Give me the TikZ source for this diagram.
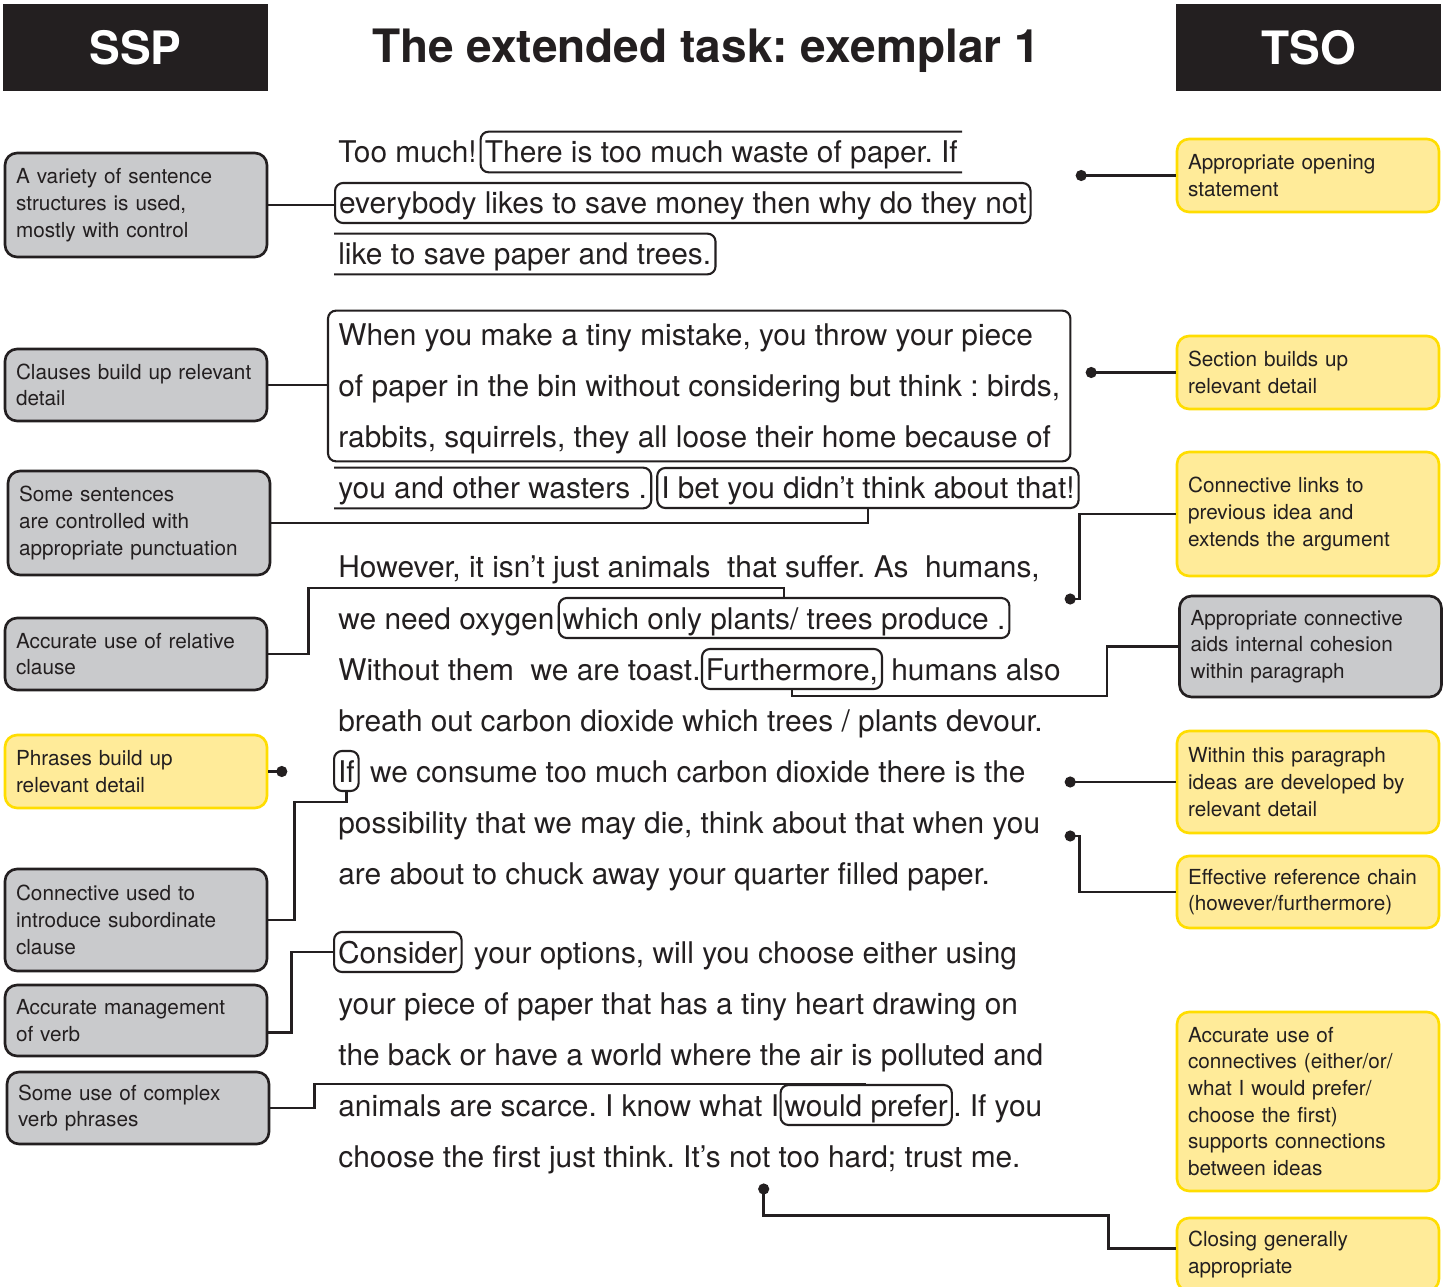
\documentclass[tikz,border=0pt]{standalone}
\usepackage{fontspec}
\setmainfont{TeX Gyre Heros}
\usetikzlibrary{arrows.meta, fit, positioning}
\definecolor{ink}{HTML}{231F20}
\definecolor{greybox}{HTML}{C9CACC}
\definecolor{yellowfill}{HTML}{FFEB99}
\definecolor{yellowedge}{HTML}{FFDD00}
\newcommand{\bodyfont}{\fontsize{17}{20}\selectfont}
\newcommand{\notefont}{\fontsize{11.8}{15.2}\selectfont}
\newcommand{\headfont}{\fontsize{26.2}{30}\selectfont\bfseries}
\frenchspacing
\tikzset{
	txt/.style={font=\bodyfont, text=ink, inner sep=0pt, anchor=base west, text height=0.56cm, text depth=0.12cm},
	hl/.style={txt, inner xsep=0.08cm, inner ysep=0.06cm},
	hlbox/.style={hl, draw=ink, line width=1.2pt, rounded corners=0.16cm},
	frame/.style={draw=ink, line width=1.2pt, rounded corners=0.16cm},
	note/.style={font=\notefont, text=ink, align=left, text width=4.8cm, inner xsep=0.22cm, rounded corners=0.24cm, line width=1.5pt},
	sspnote/.style={note, fill=greybox, draw=ink},
	tsonote/.style={note, fill=yellowfill, draw=yellowedge},
	head/.style={fill=ink, text=white, font=\headfont, minimum width=5.3cm, minimum height=1.74cm},
	conn/.style={draw=ink, line width=1.4pt},
	dot/.style={conn, -{Circle[length=0.22cm]}}
}

\begin{document}
\begin{tikzpicture}[x=0.02cm, y=-0.02cm]
\useasboundingbox (0,0) rectangle (1451,1287);
% headings
\node (ssp) [head] at (135.5,47.5) {SSP};
\node (tso) [head] at (1308.5,47.5) {TSO};
\node (title) [font=\headfont, text=ink, anchor=base] at (706,63) {The extended task: exemplar 1};

% the pupil's text
\node (t1a) [txt] at (338,163) {Too much!};
\node (t1b) [hl] at ([xshift=0.07cm]t1a.base east) {There is too much waste of paper. If};
\node (t2) [hlbox] at (334,214) {everybody likes to save money then why do they not};
\node (t3) [hl] at (334,265) {like to save paper and trees.};
\draw[frame] (t1b.north east) -- (t1b.north west) -- (t1b.south west) -- (t1b.south east);
\draw[frame] (t3.north west) -- (t3.north east) -- (t3.south east) -- (t3.south west);

\node (p2a) [txt] at (338,346) {When you make a tiny mistake, you throw your piece};
\node (p2b) [txt] at (338,397) {of paper in the bin without considering but think : birds,};
\node (p2c) [txt] at (338,448) {rabbits, squirrels, they all loose their home because of};
\node (p2box) [frame, fit=(p2a)(p2b)(p2c), inner xsep=0.2cm, inner ysep=0.14cm] {};
\node (p2d) [hl] at (334,499) {you and other wasters .};
\node (p2e) [hlbox] at ([xshift=0.1cm]p2d.base east) {I bet you didn’t think about that!};
\draw[frame] (p2d.north west) -- (p2d.north east) -- (p2d.south east) -- (p2d.south west);

\node (p3a) [txt] at (338,578) {However, it isn’t just animals\ \ that suffer. As\ \ humans,};
\node (p3b) [txt] at (338,629) {we need oxygen};
\node (p3c) [hlbox] at ([xshift=0.06cm]p3b.base east) {which only plants/ trees produce .};
\node (p3d) [txt] at (338,680) {Without them\ \ we are toast.};
\node (p3e) [hlbox] at (p3d.base east) {Furthermore,};
\node (p3f) [txt] at ([xshift=0.16cm]p3e.base east) {humans also};
\node (p3g) [txt] at (338,731) {breath out carbon dioxide which trees / plants devour.};
\node (p3h) [hlbox] at (333,782) {If};
\node (p3i) [txt] at ([xshift=0.2cm]p3h.base east) {we consume too much carbon dioxide there is the};
\node (p3j) [txt] at (338,833) {possibility that we may die, think about that when you};
\node (p3k) [txt] at (338,884) {are about to chuck away your quarter filled paper.};

\node (p4a) [hlbox] at (333,963) {Consider};
\node (p4b) [txt] at ([xshift=0.22cm]p4a.base east) {your options, will you choose either using};
\node (p4c) [txt] at (338,1014) {your piece of paper that has a tiny heart drawing on};
\node (p4d) [txt] at (338,1065) {the back or have a world where the air is polluted and};
\node (p4e) [txt] at (338,1116) {animals are scarce. I know what I};
\node (p4f) [hlbox] at (p4e.base east) {would prefer};
\node (p4g) [txt] at (p4f.base east) {. If you};
\node (p4h) [txt] at (338,1167) {choose the first just think. It’s not too hard; trust me.};

% SSP notes
\node (sv) [sspnote, minimum height=2.08cm] at (136,205) {A variety of sentence\\structures is used,\\mostly with control};
\node (cl) [sspnote, minimum height=1.44cm] at (136,385) {Clauses build up relevant\\detail};
\node (sp) [sspnote, minimum height=2.08cm] at (139,523) {Some sentences\\are controlled with\\appropriate punctuation};
\node (rc) [sspnote, minimum height=1.44cm] at (136,654) {Accurate use of relative\\clause};
\node (ph) [tsonote, minimum height=1.46cm] at (136,771.5) {Phrases build up\\relevant detail};
\node (cs) [sspnote, minimum height=2.04cm] at (136,920) {Connective used to\\introduce subordinate\\clause};
\node (mv) [sspnote, minimum height=1.42cm] at (136,1020.5) {Accurate management\\of verb};
\node (vp) [sspnote, minimum height=1.44cm] at (138,1108) {Some use of complex\\verb phrases};

% TSO notes
\node (os) [tsonote, minimum height=1.46cm] at (1308,175.5) {Appropriate opening\\statement};
\node (sd) [tsonote, minimum height=1.46cm] at (1308,372.5) {Section builds up\\relevant detail};
\node (cn) [tsonote, minimum height=2.48cm] at (1308,514) {Connective links to\\previous idea and\\extends the argument};
\node (ac) [sspnote, minimum height=2.02cm] at (1310.5,646.5) {Appropriate connective\\aids internal cohesion\\within paragraph};
\node (wp) [tsonote, minimum height=2.04cm] at (1308,782) {Within this paragraph\\ideas are developed by\\relevant detail};
\node (rf) [tsonote, minimum height=1.44cm] at (1308,892) {Effective reference chain\\(however/furthermore)};
\node (uc) [tsonote, minimum height=3.58cm] at (1308,1101.5) {Accurate use of\\connectives (either/or/\\what I would prefer/\\choose the first)\\supports connections\\between ideas};
\node (cg) [tsonote, minimum height=1.46cm] at (1308,1254.5) {Closing generally\\appropriate};

% left connectors
\draw[conn] (sv.east) -- (sv.east -| t2.west);
\draw[conn] (cl.east) -- (cl.east -| p2box.west);
\draw[conn] (sp.east) -| (p2e.south);
\draw[conn] (rc.east) -- ++(40,0) |- ([yshift=0.18cm]p3c.north) -- (p3c.north);
\draw[dot] (ph.east) -- ++(19,0);
\draw[conn] (cs.east) -- ++(26,0) |- ([yshift=-0.2cm]p3h.south) -- (p3h.south);
\draw[conn] ([yshift=-0.24cm]mv.east) -- ++(23,0) |- (p4a.west);
\draw[conn] (vp.east) -- ++(44,0) |- (p4f.north);

% right connectors
\draw[dot] (os.west) -- ++(-100,0);
\draw[dot] (sd.west) -- ++(-90,0);
\draw[dot] (cn.west) -| ++(-96,85) -- ++(-15,0);
\draw[conn] (ac.west) -- ++(-71,0) |- ([yshift=-0.12cm]p3e.south) -- (p3e.south);
\draw[dot] (wp.west) -- ++(-111,0);
\draw[dot] (rf.west) -| ++(-96,-56) -- ++(-15,0);
\draw[dot] ([yshift=0.12cm]cg.west) -- ++(-67,0) |- ++(-345,-33) -- ++(0,-32);
\end{tikzpicture}
\end{document}
